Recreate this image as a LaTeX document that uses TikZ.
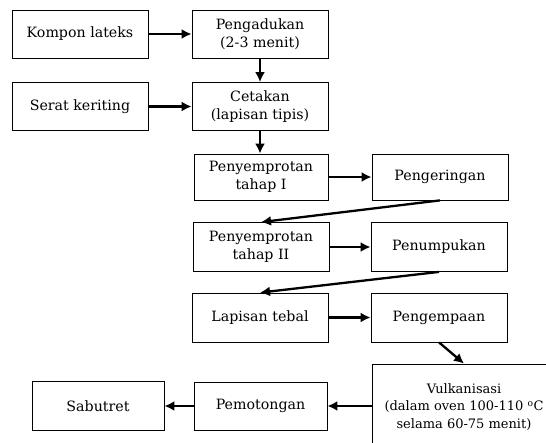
\documentclass[tikz,border=0pt]{standalone}
\usepackage{fontspec}
\setmainfont{DejaVu Serif}
\usetikzlibrary{arrows.meta}
\tikzset{
  box/.style={draw,line width=0.8pt,minimum width=136pt,minimum height=48pt,
    inner sep=1pt,align=center,font=\fontsize{14.2}{18.5}\selectfont},
  flow/.style={line width=2.3pt,-{Latex[length=10pt,width=10pt]}}
}
\begin{document}
\begin{tikzpicture}[x=1pt,y=1pt]
    \useasboundingbox (0,0) rectangle (546,442);
    \clip (0,0) rectangle (546,442);
    \node[box] (kompon) at (80,408) {Kompon lateks};
    \node[box] (aduk) at (260,408) {Pengadukan\\(2-3 menit)};
    \node[box] (serat) at (80,335.5) {Serat keriting};
    \node[box] (cetak) at (260,335.5) {Cetakan\\(lapisan tipis)};
    \node[box,minimum width=134pt,minimum height=46pt] (semprotI) at (261,265) {Penyemprotan\\tahap I};
    \node[box,minimum height=46pt] (kering) at (440,265) {Pengeringan};
    \node[box,minimum height=49pt] (semprotII) at (261,195) {Penyemprotan\\tahap II};
    \node[box,minimum height=49pt] (tumpuk) at (439,195) {Penumpukan};
    \node[box,minimum height=49pt] (tebal) at (260,124.5) {Lapisan tebal};
    \node[box,minimum height=49pt] (kempa) at (439,124.5) {Pengempaan};
    \node[box,minimum width=184pt,minimum height=86pt,font=\fontsize{13}{17.5}\selectfont] (vulkan) at (464,35)
        {Vulkanisasi\\(dalam oven 100-110 \textsuperscript{o}C\\selama 60-75 menit)};
    \node[box,minimum width=133pt] (potong) at (260.5,36) {Pemotongan};
    \node[box,minimum width=132pt,minimum height=49pt] (sabut) at (98,36) {Sabutret};
    % alur proses
    \draw[flow] (kompon.east)--(aduk.west);
    \draw[flow] (aduk.south)--(cetak.north);
    \draw[flow] (serat.east)--(cetak.west);
    \draw[flow] (cetak.south)--(cetak.south|-semprotI.north);
    \draw[flow] (semprotI.east)--(kering.west);
    \draw[flow] (kering.south)--(semprotII.north);
    \draw[flow] (semprotII.east)--(tumpuk.west);
    \draw[flow] (tumpuk.south)--(tebal.north);
    \draw[flow] (tebal.east)--(kempa.west);
    \draw[flow] (kempa.south)--(vulkan.north);
    \draw[flow] (vulkan.west|-potong.east)--(potong.east);
    \draw[flow] (potong.west)--(sabut.east);
\end{tikzpicture}
\end{document}
